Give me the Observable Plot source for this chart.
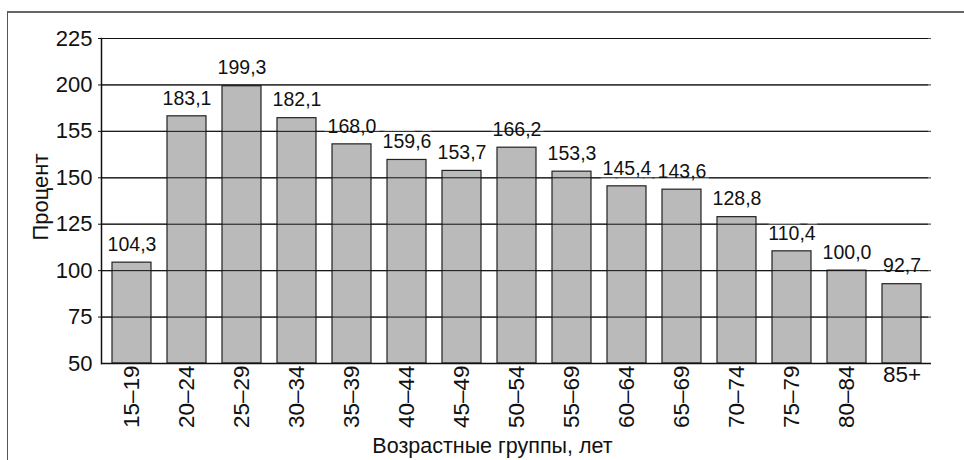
<!DOCTYPE html>
<html>
<head>
<meta charset="utf-8">
<script src="https://cdn.jsdelivr.net/npm/d3@7"></script>
<script src="https://cdn.jsdelivr.net/npm/@observablehq/plot@0.6"></script>
<style>
  html, body { margin: 0; padding: 0; background: #fff; }
  #wrap { position: relative; width: 964px; height: 460px; overflow: hidden; }
  #border { position: absolute; left: 7px; top: 11px; width: 980px; height: 480px;
            border-left: 1px solid #555; border-top: 2px solid #666; box-sizing: border-box; }
  #chart { position: absolute; left: 0; top: 0; }
</style>
</head>
<body>
<div id="wrap"><div id="border"></div><div id="chart"></div></div>
<script>
// Age groups and the percentage for each group
const ageGroups = ["15–19", "20–24", "25–29", "30–34", "35–39", "40–44", "45–49", "50–54",
                   "55–69", "60–64", "65–69", "70–74", "75–79", "80–84", "85+"];
const percents = [104.3, 183.1, 199.3, 182.1, 168.0, 159.6, 153.7, 166.2,
                  153.3, 145.4, 143.6, 128.8, 110.4, 100.0, 92.7];

// Y axis ticks and the labels printed beside them
const yTicks = [50, 75, 100, 125, 150, 175, 200, 225];
const yTickLabels = ["50", "75", "100", "125", "150", "155", "200", "225"];

const xTitle = "Возрастные группы, лет";
const yTitle = "Процент";

const data = ageGroups.map((group, i) => ({group, value: percents[i]}));
const yMin = yTicks[0];
const fmt = v => v.toFixed(1).replace(".", ",");
const rotatedGroups = ageGroups.slice(0, -1);
const flatGroups = ageGroups.slice(-1);
const font = "'Liberation Sans', Arial, Helvetica, sans-serif";

const chart = Plot.plot({
  width: 964,
  height: 460,
  marginLeft: 101,
  marginRight: 33,
  marginTop: 38,
  marginBottom: 97,
  style: {fontFamily: font, fontSize: "20px", color: "#111", background: "transparent", overflow: "visible"},
  x: {domain: ageGroups, paddingInner: 0.3, paddingOuter: 0.15, axis: null},
  y: {domain: [yMin, yTicks[yTicks.length - 1]], axis: null},
  marks: [
    // horizontal grid
    Plot.gridY(yTicks.slice(1), {stroke: "#555", strokeOpacity: 1, strokeWidth: 1.2}),
    // bars
    Plot.barY(data, {x: "group", y1: () => yMin, y2: "value", fill: "#bababa", stroke: "#222", strokeWidth: 1.2}),
    // value labels with a white backing that cuts the grid lines
    Plot.text(data, {x: "group", y: "value", text: d => fmt(d.value), dy: -18,
      fontSize: 19.5, fill: "#111", stroke: "white", strokeWidth: 9}),
    // axis lines
    Plot.ruleY([yMin], {stroke: "#111", strokeWidth: 1.5}),
    Plot.frame({anchor: "left", stroke: "#111", strokeWidth: 1.5}),
    // y axis
    Plot.axisY(yTicks, {tickSize: 0, tickPadding: 9, fontSize: 22, label: null,
      tickFormat: v => yTickLabels[yTicks.indexOf(v)]}),
    Plot.tickY(yTicks.slice(1), {frameAnchor: "left", dx: -3, stroke: "#111"}),
    // x axis: rotated group labels and the last one written flat
    Plot.axisX(rotatedGroups, {tickSize: 0, tickPadding: 2, tickRotate: -90, fontSize: 22.5, label: null}),
    Plot.axisX(flatGroups, {tickSize: 0, tickPadding: 3, fontSize: 22.5, label: null}),
    // axis titles
    Plot.text([xTitle], {frameAnchor: "bottom", lineAnchor: "middle", textAnchor: "middle",
      dx: -24, dy: 83, fontSize: 21.5, fill: "#111"}),
    Plot.text([yTitle], {frameAnchor: "left", lineAnchor: "middle", textAnchor: "middle",
      rotate: -90, dx: -61, dy: -4, fontSize: 22, fill: "#111"})
  ]
});

document.getElementById("chart").appendChild(chart);
</script>
</body>
</html>
